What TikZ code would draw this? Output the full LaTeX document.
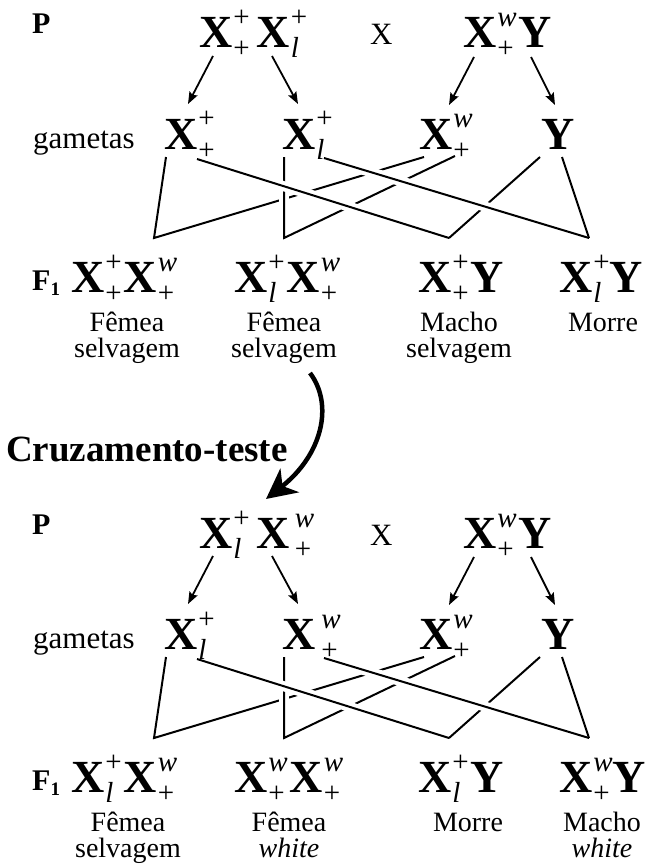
\documentclass[tikz,border=0pt]{standalone}
\usepackage{fontspec}
\setmainfont{Liberation Serif}
\usetikzlibrary{arrows.meta}
\newcommand\scrs[2]{{\fontsize{29}{29}\selectfont
  \setbox0=\hbox{#1}\setbox2=\hbox{#2}%
  \dimen0=\wd0 \ifdim\wd2>\dimen0 \dimen0=\wd2 \fi
  \hbox to\dimen0{\rlap{\raise21pt\box0}\raise-10pt\box2\hss}}}
\newcommand\bX{{\fontsize{46}{46}\selectfont\bfseries X}}
\newcommand\gx[2]{\bX\kern1pt\scrs{#1}{#2}}
\newcommand\gy{{\fontsize{46}{46}\selectfont\bfseries Y}}
\newcommand\il{\textit{l}}
\newcommand\iw{\textit{w}}
\newcommand\Fone{{\fontsize{30}{30}\selectfont\bfseries F\raise-5pt\hbox{\fontsize{19}{19}\selectfont 1}}}
\tikzset{
  gen/.style={anchor=base west, inner sep=0pt},
  lbl/.style={anchor=base, inner sep=0pt, font=\fontsize{28}{28}\selectfont},
  rowlbl/.style={anchor=base west, inner sep=0pt},
  arr/.style={line width=1.8pt, -{Stealth[length=12pt,width=9pt,inset=2pt]}},
  ln/.style={line width=2pt},
  halo/.style={white, line width=10pt, shorten <=7pt, shorten >=7pt}
}
\newcommand\lattice{%
  \coordinate (a1s) at (213,56);  \coordinate (a1e) at (188,104);
  \coordinate (a2s) at (272,56);  \coordinate (a2e) at (298,104);
  \coordinate (a3s) at (474,57);  \coordinate (a3e) at (449,105);
  \coordinate (a4s) at (531,57);  \coordinate (a4e) at (555,105);
  \draw[arr] (a1s) -- (a1e);
  \draw[arr] (a2s) -- (a2e);
  \draw[arr] (a3s) -- (a3e);
  \draw[arr] (a4s) -- (a4e);
  \coordinate (g1L) at (166,157); \coordinate (g1R) at (197,159);
  \coordinate (g2L) at (284,157); \coordinate (g2R) at (324,158);
  \coordinate (g3L) at (424,157); \coordinate (g3R) at (455,156);
  \coordinate (g4L) at (540,157); \coordinate (g4R) at (562,157);
  \coordinate (J1) at (154,238);  \coordinate (J2) at (284,238);
  \coordinate (J3) at (449,238);  \coordinate (J4) at (589,238);
  \draw[ln] (g1L) -- (J1) -- (g3L);
  \draw[halo] (g2L) -- (J2);
  \draw[ln] (g2L) -- (J2) -- (g3R);
  \draw[ln] (J3) -- (g4L);
  \draw[ln] (J4) -- (g4R);
  \draw[halo] (g1R) -- (J3);
  \draw[ln] (g1R) -- (J3);
  \draw[halo] (g2R) -- (J4);
  \draw[ln] (g2R) -- (J4);
}
\begin{document}
\begin{tikzpicture}[x=1pt,y=-1pt]
\useasboundingbox (0,0) rectangle (647,864);
% ---------- top cross ----------
\begin{scope}[name prefix=t-]
\node[rowlbl, font=\fontsize{30}{30}\selectfont\bfseries] (P) at (32,34) {P};
\node[gen] (p1) at (199,48) {\gx{+}{+}\kern7pt\gx{+}{\il}};
\node[gen, font=\fontsize{31}{31}\selectfont] (x) at (370,45) {X};
\node[gen] (p2) at (463,48) {\gx{\iw}{+}\kern2pt\gy};
\node[rowlbl, font=\fontsize{31}{31}\selectfont] (gam) at (33,148) {gametas};
\node[gen] (g1) at (164,149) {\gx{+}{+}};
\node[gen] (g2) at (282,149) {\gx{+}{\il}};
\node[gen] (g3) at (419,149) {\gx{\iw}{+}};
\node[gen] (g4) at (541,149) {\gy};
\node[rowlbl] (F) at (32,290) {\Fone};
\node[gen] (f1) at (71,292) {\gx{+}{+}\kern2pt\gx{\iw}{+}};
\node[gen] (f2) at (234,292) {\gx{+}{\il}\kern2pt\gx{\iw}{+}};
\node[gen] (f3) at (418,292) {\gx{+}{+}\kern2pt\gy};
\node[gen] (f4) at (559,292) {\gx{+}{\il}\gy};
\node[lbl] (l1a) at (127,331) {Fêmea};
\node[lbl] (l1b) at (127,357) {selvagem};
\node[lbl] (l2a) at (284,331) {Fêmea};
\node[lbl] (l2b) at (284,357) {selvagem};
\node[lbl] (l3a) at (459,331) {Macho};
\node[lbl] (l3b) at (459,357) {selvagem};
\node[lbl] (l4a) at (603,331) {Morre};
\lattice
\end{scope}
% ---------- test cross ----------
\node[rowlbl, font=\fontsize{37}{37}\selectfont\bfseries] (ct) at (6,461) {Cruzamento-teste};
\coordinate (cs) at (310,373);
\coordinate (ce) at (266,499);
\draw[line width=4.5pt, -{Stealth[length=30pt,width=30pt,inset=9pt]}] (cs) .. controls (334,405) and (322,455) .. (ce);
% ---------- bottom cross ----------
\begin{scope}[yshift=-500pt, name prefix=b-]
\node[rowlbl, font=\fontsize{30}{30}\selectfont\bfseries] (P) at (32,34) {P};
\node[gen] (p1) at (199,48) {\gx{+}{\il}\kern7pt\bX\kern5pt\scrs{\iw}{+}};
\node[gen, font=\fontsize{31}{31}\selectfont] (x) at (370,45) {X};
\node[gen] (p2) at (463,48) {\gx{\iw}{+}\kern2pt\gy};
\node[rowlbl, font=\fontsize{31}{31}\selectfont] (gam) at (33,148) {gametas};
\node[gen] (g1) at (164,149) {\gx{+}{\il}};
\node[gen] (g2) at (282,149) {\bX\kern6pt\scrs{\iw}{+}};
\node[gen] (g3) at (419,149) {\gx{\iw}{+}};
\node[gen] (g4) at (541,149) {\gy};
\node[rowlbl] (F) at (32,290) {\Fone};
\node[gen] (f1) at (71,292) {\gx{+}{\il}\kern2pt\gx{\iw}{+}};
\node[gen] (f2) at (234,292) {\gx{\iw}{+}\kern2pt\gx{\iw}{+}};
\node[gen] (f3) at (418,292) {\gx{+}{\il}\kern2pt\gy};
\node[gen] (f4) at (559,292) {\gx{\iw}{+}\gy};
\node[lbl] (l1a) at (128,331) {Fêmea};
\node[lbl] (l1b) at (128,357) {selvagem};
\node[lbl] (l2a) at (289,331) {Fêmea};
\node[lbl] (l2b) at (289,357) {\textit{white}};
\node[lbl] (l3a) at (468,331) {Morre};
\node[lbl] (l4a) at (602,331) {Macho};
\node[lbl] (l4b) at (602,357) {\textit{white}};
\lattice
\end{scope}
\end{tikzpicture}
\end{document}
